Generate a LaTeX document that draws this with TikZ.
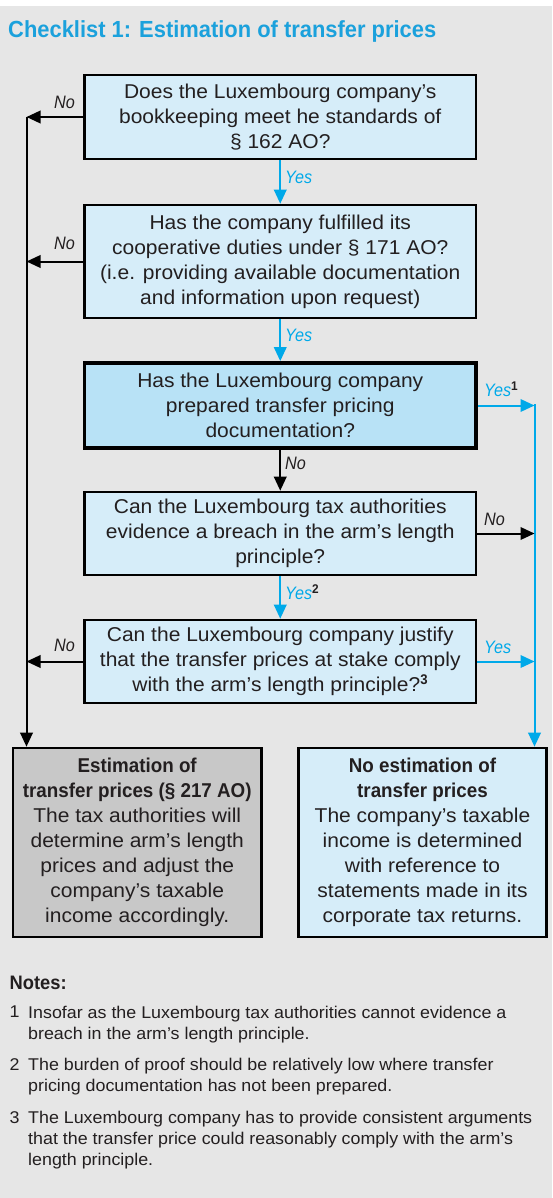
\documentclass[tikz,border=0pt]{standalone}
\usepackage{fontspec}
\setmainfont{Liberation Sans}[UprightFeatures={FakeStretch=1.05}, BoldFeatures={FakeStretch=0.94}, ItalicFeatures={FakeStretch=0.9}]
\usetikzlibrary{arrows.meta}
\definecolor{bgc}{HTML}{E6E6E6}
\definecolor{ttl}{HTML}{1BA1DC}
\definecolor{arb}{HTML}{00A9E9}
\definecolor{lbox}{HTML}{D6EDF9}
\definecolor{dbox}{HTML}{B8E2F6}
\definecolor{gbox}{HTML}{C8C8C8}
\definecolor{txt}{HTML}{231F20}
\tikzset{
  qbox/.style={draw=black, line width=2.6pt, fill=lbox, minimum width=391.5pt, align=center, inner sep=0pt, text=txt, font=\fontsize{20}{25}\selectfont},
  endbox/.style={draw=black, line width=2.6pt, minimum width=248.5pt, minimum height=189pt, align=center, inner sep=0pt, text=txt, font=\fontsize{20}{25}\selectfont},
  blkarr/.style={draw=black, line width=2pt, -{Triangle[length=14pt,width=12.5pt]}},
  bluarr/.style={draw=arb, line width=2pt, -{Triangle[length=14pt,width=12.5pt]}},
  nolab/.style={text=txt, font=\fontsize{18}{20}\selectfont\itshape, inner sep=0pt},
  yeslab/.style={text=arb, font=\fontsize{18}{20}\selectfont\itshape, inner sep=0pt},
  notetxt/.style={text=txt, font=\fontsize{17}{21}\selectfont, anchor=north west, inner sep=0pt, align=left}
}
\begin{document}
\begin{tikzpicture}[x=1pt,y=-1pt]
\useasboundingbox (0,0) rectangle (552,1198);
\fill[white] (0,0) rectangle (552,6);
\fill[bgc] (0,6) rectangle (552,1198);
\node[anchor=base west, inner sep=0pt, text=ttl, font=\fontsize{23.3}{26}\selectfont\bfseries] (title) at (8,38) {Checklist 1: Estimation of transfer prices};

\node[qbox, minimum height=84pt] (b1) at (280.25,117) {Does the Luxembourg company’s\\bookkeeping meet he standards of\\§ 162 AO?};
\node[qbox, minimum height=113pt] (b2) at (280.25,261.5) {Has the company fulfilled its\\cooperative duties under § 171 AO?\\(i.e. providing available documentation\\and information upon request)};
\node[qbox, fill=dbox, line width=3.8pt, minimum height=85pt] (b3) at (280.25,405.5) {Has the Luxembourg company\\prepared transfer pricing\\documentation?};
\node[qbox, minimum height=83pt] (b4) at (280.25,533.5) {Can the Luxembourg tax authorities\\evidence a breach in the arm’s length\\principle?};
\node[qbox, minimum height=83pt] (b5) at (280.25,661.5) {Can the Luxembourg company justify\\that the transfer prices at stake comply\\with the arm’s length principle?\textsuperscript{\bfseries 3}};

\node[endbox, fill=gbox] (e1) at (137.25,842.5) {\textbf{Estimation of}\\\textbf{transfer prices (§ 217 AO)}\\The tax authorities will\\determine arm’s length\\prices and adjust the\\company’s taxable\\income accordingly.};
\node[endbox, fill=lbox] (e2) at (422.5,842.5) {\textbf{No estimation of}\\\textbf{transfer prices}\\The company’s taxable\\income is determined\\with reference to\\statements made in its\\corporate tax returns.};

\coordinate (L) at (26.5,117);
\coordinate (R) at (534.5,404);

% left side No arrows
\draw[blkarr] (b1.west) -- (b1.west -| L);
\draw[blkarr] (b2.west) -- (b2.west -| L);
\draw[blkarr] (b5.west) -- (b5.west -| L);
\draw[blkarr] (L) -- (L |- e1.north);
% vertical flow
\draw[bluarr] (b1.south) -- (b2.north);
\draw[bluarr] (b2.south) -- (b3.north);
\draw[blkarr] (b3.south) -- (b4.north);
\draw[bluarr] (b4.south) -- (b5.north);
% right side
\draw[bluarr] (b3.east) -- (b3.east -| R);
\draw[draw=arb, line width=2pt] (R) -- (R |- b5.east);
\draw[bluarr] (R |- b5.east) -- (R |- e2.north);
\draw[blkarr] (b4.east) -- (b4.east -| R);
\draw[bluarr] (b5.east) -- (b5.east -| R);

% labels
\node[nolab] (n1) at (64.5,102) {No};
\node[nolab] (n2) at (64.5,243) {No};
\node[nolab] (n5) at (64.5,645) {No};
\node[yeslab, anchor=west] (y1) at (285,177) {Yes};
\node[yeslab, anchor=west] (y2) at (285,335) {Yes};
\node[nolab, anchor=west] (n3) at (285,463) {No};
\node[yeslab, anchor=west] (y4) at (285,592) {Yes\textsuperscript{\upshape\bfseries\color{txt}2}};
\node[yeslab, anchor=west] (y3) at (484,389) {Yes\textsuperscript{\upshape\bfseries\color{txt}1}};
\node[nolab, anchor=west] (n4) at (484,519) {No};
\node[yeslab, anchor=west] (y5) at (484,647) {Yes};

% notes
\node[anchor=west, inner sep=0pt, text=txt, font=\fontsize{19.5}{22}\selectfont\bfseries] (notes) at (9.5,983) {Notes:};
\node[notetxt] (k1) at (9.5,1006) {1};
\node[notetxt] (t1) at (28,1006) {Insofar as the Luxembourg tax authorities cannot evidence a\\breach in the arm's length principle.};
\node[notetxt] (k2) at (9.5,1058) {2};
\node[notetxt] (t2) at (28,1058) {The burden of proof should be relatively low where transfer\\pricing documentation has not been prepared.};
\node[notetxt] (k3) at (9.5,1111) {3};
\node[notetxt] (t3) at (28,1111) {The Luxembourg company has to provide consistent arguments\\that the transfer price could reasonably comply with the arm's\\length principle.};
\end{tikzpicture}
\end{document}
